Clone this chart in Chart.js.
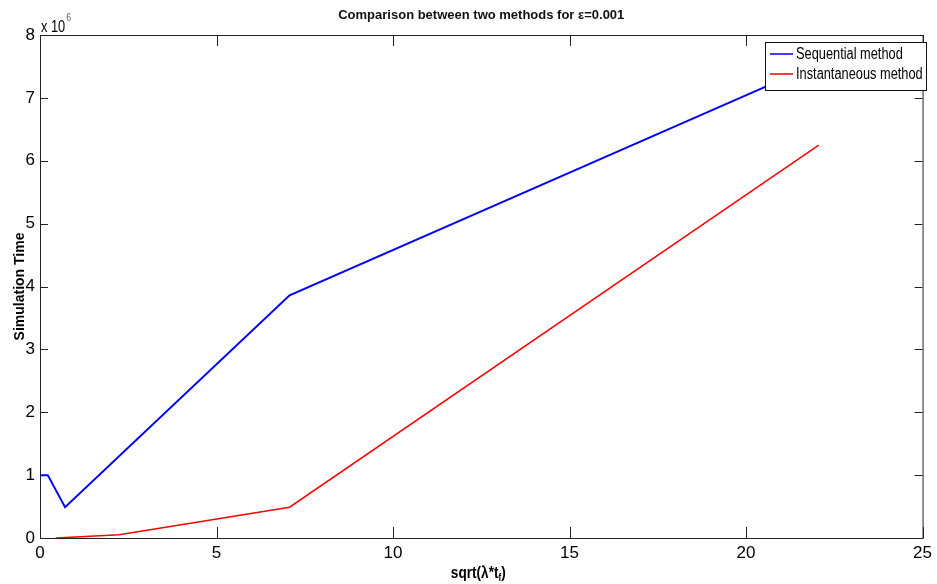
<!DOCTYPE html>
<html>
<head>
<meta charset="utf-8">
<script src="https://cdn.jsdelivr.net/npm/chart.js@4/dist/chart.umd.min.js"></script>
<style>
  html, body { margin: 0; padding: 0; background: #fff; }
</style>
</head>
<body>
<canvas id="chart" width="937" height="584"></canvas>
<script>
// values, simulation time in units of 10^6
const seqX = [0, 0.22, 0.71, 7.07, 22.06];
const seqTime = [1.0, 1.0, 0.49, 3.86, 7.55];
const instX = [0.45, 2.24, 7.07, 22.06];
const instTime = [0.0, 0.05, 0.49, 6.25];
const xTicks = [0, 5, 10, 15, 20, 25];
const yTicks = [0, 1, 2, 3, 4, 5, 6, 7, 8];

const FONT = "'Liberation Sans', Arial, sans-serif";
const NARROW = 0.8; // squeeze text to look like the narrow original font

const toPoints = (xs, ys) => xs.map((x, i) => ({ x, y: ys[i] }));

// draw text squeezed horizontally, returns drawn width
const narrowText = (ctx, text, x, y, font) => {
  ctx.save();
  ctx.font = font;
  ctx.translate(x, y);
  ctx.scale(NARROW, 1);
  ctx.fillText(text, 0, 0);
  const w = ctx.measureText(text).width * NARROW;
  ctx.restore();
  return w;
};

const narrowWidth = (ctx, text, font) => {
  ctx.save();
  ctx.font = font;
  const w = ctx.measureText(text).width * NARROW;
  ctx.restore();
  return w;
};

// MATLAB style box with inward ticks, the exponent label, the legend and the x label
const matlabFrame = {
  id: "matlabFrame",
  afterDatasetsDraw(chart) {
    const { ctx, chartArea: a, scales } = chart;
    ctx.save();
    ctx.strokeStyle = "#222";
    ctx.lineWidth = 1;
    ctx.strokeRect(a.left + 0.5, a.top + 0.5, a.right - a.left, a.bottom - a.top);

    ctx.beginPath();
    xTicks.forEach((v) => {
      const px = Math.round(scales.x.getPixelForValue(v)) + 0.5;
      ctx.moveTo(px, a.bottom);
      ctx.lineTo(px, a.bottom - 11);
      ctx.moveTo(px, a.top);
      ctx.lineTo(px, a.top + 11);
    });
    yTicks.forEach((v) => {
      const py = Math.round(scales.y.getPixelForValue(v)) + 0.5;
      ctx.moveTo(a.left, py);
      ctx.lineTo(a.left + 8, py);
      ctx.moveTo(a.right, py);
      ctx.lineTo(a.right - 8, py);
    });
    ctx.stroke();

    // legend
    const lx = 765, ly = 42, lw = 161, lh = 48;
    ctx.fillStyle = "#fff";
    ctx.fillRect(lx, ly, lw, lh);
    ctx.strokeStyle = "#111";
    ctx.strokeRect(lx + 0.5, ly + 0.5, lw, lh);
    ctx.textBaseline = "middle";
    ctx.textAlign = "left";
    chart.data.datasets.forEach((ds, i) => {
      const y = ly + 12 + i * 20;
      ctx.strokeStyle = ds.borderColor;
      ctx.lineWidth = 1.5;
      ctx.beginPath();
      ctx.moveTo(lx + 5, y);
      ctx.lineTo(lx + 28, y);
      ctx.stroke();
      ctx.fillStyle = "#000";
      narrowText(ctx, ds.label, lx + 31, y + 1, "16px " + FONT);
    });

    // exponent label
    ctx.fillStyle = "#000";
    ctx.textBaseline = "alphabetic";
    const w = narrowText(ctx, "x 10", a.left + 1, a.top - 3, "16px " + FONT);
    ctx.fillStyle = "#666";
    narrowText(ctx, "6", a.left + 2 + w, a.top - 14, "11px " + FONT);

    // x label with subscript
    ctx.fillStyle = "#000";
    const big = "bold 17px " + FONT;
    const small = "bold 10px " + FONT;
    const main = "sqrt(\u03bb*t";
    const total = narrowWidth(ctx, main, big) + narrowWidth(ctx, "f", small) + narrowWidth(ctx, ")", big);
    let tx = (a.left + a.right) / 2 - 3 - total / 2;
    const base = 578;
    tx += narrowText(ctx, main, tx, base, big);
    tx += narrowText(ctx, "f", tx, base + 3, small);
    narrowText(ctx, ")", tx, base, big);
    ctx.restore();
  },
};

new Chart(document.getElementById("chart"), {
  type: "line",
  data: {
    datasets: [
      {
        label: "Sequential method",
        data: toPoints(seqX, seqTime),
        borderColor: "#0000ff",
        borderWidth: 2,
        pointRadius: 0,
        tension: 0,
      },
      {
        label: "Instantaneous method",
        data: toPoints(instX, instTime),
        borderColor: "#ff0000",
        borderWidth: 1.5,
        pointRadius: 0,
        tension: 0,
      },
    ],
  },
  options: {
    responsive: false,
    animation: false,
    layout: { padding: { left: 0, right: 5, top: 0, bottom: 0 } },
    plugins: {
      legend: { display: false },
      tooltip: { enabled: false },
      title: {
        display: true,
        text: "Comparison between two methods for \u03b5=0.001",
        color: "#111",
        fullSize: false,
        font: { family: FONT, size: 13, weight: "bold", lineHeight: 1.2 },
        padding: { top: 8, bottom: 11.4 },
      },
    },
    scales: {
      x: {
        type: "linear",
        min: 0,
        max: 25,
        afterFit: (scale) => { scale.height = 46; },
        afterBuildTicks: (scale) => { scale.ticks = xTicks.map((v) => ({ value: v })); },
        grid: { display: false, drawTicks: false },
        border: { display: false },
        ticks: { color: "#000", padding: 5, maxRotation: 0, font: { family: FONT, size: 17 } },
      },
      y: {
        min: 0,
        max: 8,
        afterFit: (scale) => { scale.width = 40; },
        afterBuildTicks: (scale) => { scale.ticks = yTicks.map((v) => ({ value: v })); },
        grid: { display: false, drawTicks: false },
        border: { display: false },
        ticks: { color: "#000", padding: 5, font: { family: FONT, size: 17 } },
        title: {
          display: true,
          text: "Simulation Time",
          color: "#000",
          font: { family: FONT, size: 14, weight: "bold" },
          padding: { top: 12, bottom: 0 },
        },
      },
    },
  },
  plugins: [matlabFrame],
});
</script>
</body>
</html>
